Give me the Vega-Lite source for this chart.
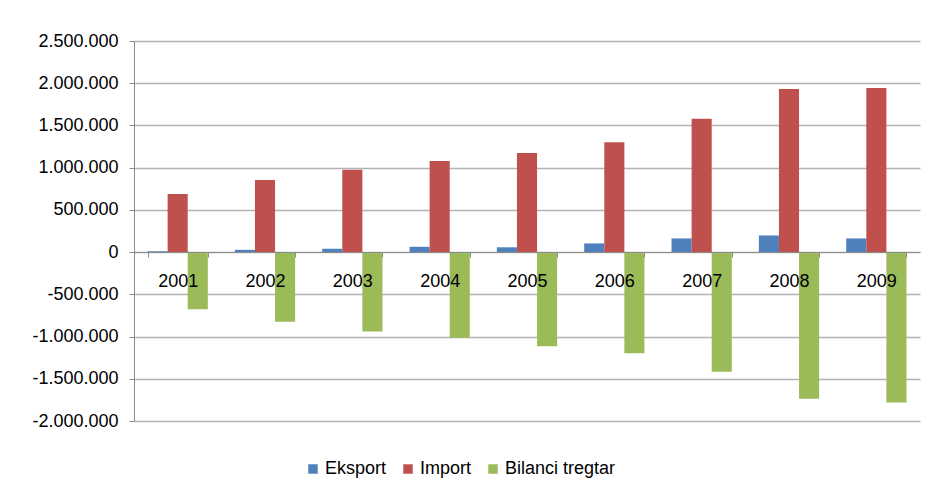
{
  "$schema": "https://vega.github.io/schema/vega-lite/v6.json",
  "width": 786,
  "height": 380,
  "autosize": {"type": "none"},
  "padding": {"left": 134, "top": 41, "right": 8, "bottom": 70},
  "background": "white",
  "config": {
    "locale": {"number": {"decimal": ",", "thousands": ".", "grouping": [3], "currency": ["", ""], "minus": "-"}},
    "view": {"stroke": null},
    "font": "Liberation Sans"
  },
  "data": {
    "values": [
      {"year": "2001", "series": "Eksport", "value": 10000},
      {"year": "2001", "series": "Import", "value": 687000},
      {"year": "2001", "series": "Bilanci tregtar", "value": -677000},
      {"year": "2002", "series": "Eksport", "value": 27000},
      {"year": "2002", "series": "Import", "value": 853000},
      {"year": "2002", "series": "Bilanci tregtar", "value": -826000},
      {"year": "2003", "series": "Eksport", "value": 40000},
      {"year": "2003", "series": "Import", "value": 975000},
      {"year": "2003", "series": "Bilanci tregtar", "value": -940000},
      {"year": "2004", "series": "Eksport", "value": 63000},
      {"year": "2004", "series": "Import", "value": 1078000},
      {"year": "2004", "series": "Bilanci tregtar", "value": -1015000},
      {"year": "2005", "series": "Eksport", "value": 57000},
      {"year": "2005", "series": "Import", "value": 1173000},
      {"year": "2005", "series": "Bilanci tregtar", "value": -1116000},
      {"year": "2006", "series": "Eksport", "value": 103000},
      {"year": "2006", "series": "Import", "value": 1300000},
      {"year": "2006", "series": "Bilanci tregtar", "value": -1197000},
      {"year": "2007", "series": "Eksport", "value": 162000},
      {"year": "2007", "series": "Import", "value": 1578000},
      {"year": "2007", "series": "Bilanci tregtar", "value": -1418000},
      {"year": "2008", "series": "Eksport", "value": 197000},
      {"year": "2008", "series": "Import", "value": 1932000},
      {"year": "2008", "series": "Bilanci tregtar", "value": -1736000},
      {"year": "2009", "series": "Eksport", "value": 162000},
      {"year": "2009", "series": "Import", "value": 1943000},
      {"year": "2009", "series": "Bilanci tregtar", "value": -1780000}
    ]
  },
  "mark": {"type": "bar"},
  "encoding": {
    "x": {
      "field": "year",
      "type": "nominal",
      "title": null,
      "scale": {"paddingInner": 0.31, "paddingOuter": 0.155},
      "axis": {
        "offset": -169,
        "labelAngle": 0,
        "labelFontSize": 18,
        "labelColor": "#000000",
        "labelPadding": 15,
        "tickBand": "extent",
        "tickSize": 5,
        "tickColor": "#8c8c8c",
        "domainColor": "#8c8c8c",
        "zindex": 1
      }
    },
    "xOffset": {
      "field": "series",
      "type": "nominal",
      "sort": ["Eksport", "Import", "Bilanci tregtar"],
      "scale": {"paddingInner": 0, "paddingOuter": 0}
    },
    "y": {
      "field": "value",
      "type": "quantitative",
      "title": null,
      "scale": {"domain": [-2000000, 2500000], "nice": false},
      "axis": {
        "values": [-2000000, -1500000, -1000000, -500000, 0, 500000, 1000000, 1500000, 2000000, 2500000],
        "format": ",d",
        "labelFontSize": 18,
        "labelColor": "#000000",
        "labelPadding": 11,
        "tickSize": 5,
        "tickColor": "#8c8c8c",
        "domainColor": "#8c8c8c",
        "gridColor": "#b3b3b3",
        "gridWidth": 1.3
      }
    },
    "color": {
      "field": "series",
      "type": "nominal",
      "sort": ["Eksport", "Import", "Bilanci tregtar"],
      "scale": {"domain": ["Eksport", "Import", "Bilanci tregtar"], "range": ["#4F81BD", "#C0504D", "#9BBB59"]},
      "legend": {
        "title": null,
        "orient": "none",
        "direction": "horizontal",
        "legendX": 170,
        "legendY": 419,
        "symbolType": "square",
        "symbolSize": 90,
        "symbolStrokeWidth": 0,
        "labelFontSize": 18,
        "labelColor": "#000000",
        "labelOffset": 3,
        "columnPadding": 12
      }
    }
  }
}
